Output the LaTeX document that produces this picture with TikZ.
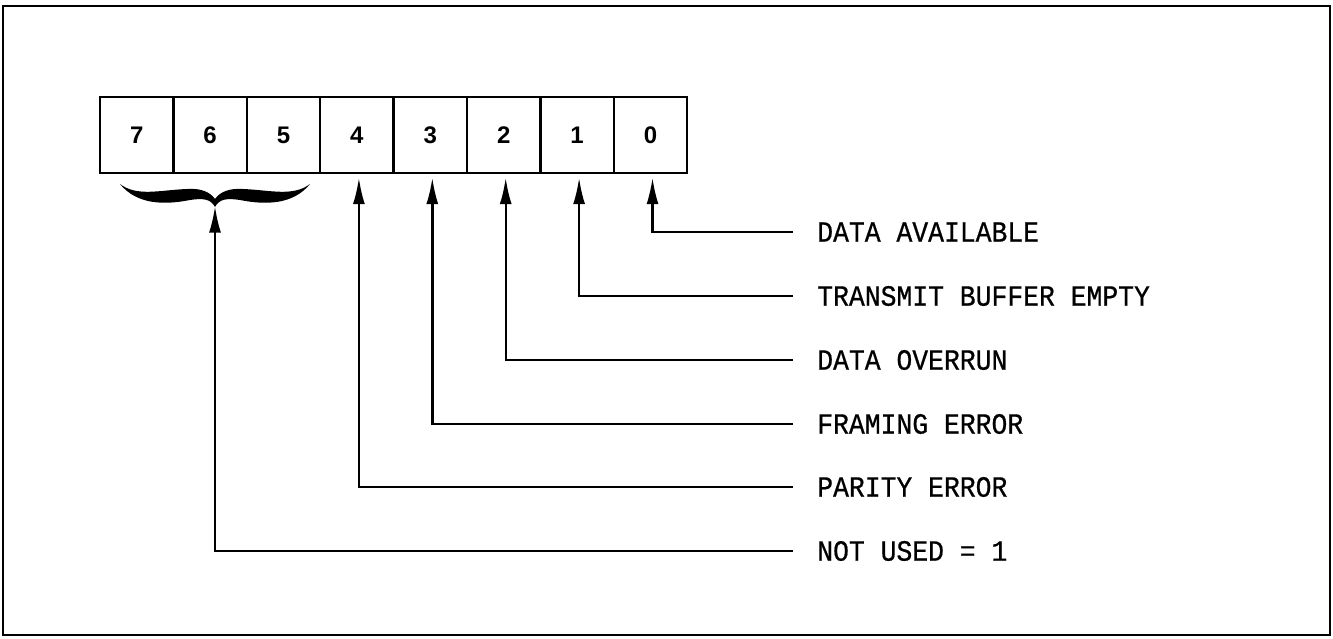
\documentclass[tikz,border=0pt]{standalone}
\usepackage{fontspec}
\setmainfont{Liberation Sans}
\newfontfamily\labfont[FakeStretch=0.9,FakeBold=0.6]{Liberation Mono}
\usetikzlibrary{arrows.meta}

\begin{document}
\begin{tikzpicture}[x=0.75pt,y=-0.75pt,
    cell/.style={draw,line width=1.8pt,minimum width=55pt,minimum height=57pt,inner sep=0pt,
      font=\fontsize{18}{21}\selectfont\bfseries},
    lab/.style={anchor=west,inner xsep=18pt,inner ysep=0pt,font=\labfont\fontsize{22}{26}\selectfont},
    sig/.style={line width=1.8pt,-{Latex[length=20pt,width=9pt]}}]
  \useasboundingbox (0,0) rectangle (1333,638);
  \draw[line width=2pt] (3,6) rectangle (1330,635);
  % status register, bit 7 on the left
  \foreach \b [count=\i from 0] in {7,6,...,0}
    \node[cell] (b\b) at ({136.7+73.4*\i},135) {\b};
  % brace under bits 7..5
  \begin{scope}[shift={(215,0)}]
    \fill (-95,184) .. controls (-78,205) and (-50,205) .. (-25,200)
      .. controls (-12,198) and (-4,199) .. (0,207)
      .. controls (4,199) and (12,198) .. (25,200)
      .. controls (50,205) and (78,205) .. (95,184)
      .. controls (78,197) and (55,190) .. (28,189)
      .. controls (14,188) and (5,192) .. (0,199)
      .. controls (-5,192) and (-14,188) .. (-28,189)
      .. controls (-55,190) and (-78,197) .. (-95,184) -- cycle;
  \end{scope}
  \coordinate (brace) at (215,206);
  % bit meanings
  \node[lab] (l0) at (793,232) {DATA AVAILABLE};
  \node[lab] (l1) at (793,296) {TRANSMIT BUFFER EMPTY};
  \node[lab] (l2) at (793,360) {DATA OVERRUN};
  \node[lab] (l3) at (793,424) {FRAMING ERROR};
  \node[lab] (l4) at (793,487) {PARITY ERROR};
  \node[lab] (l5) at (793,551) {NOT USED = 1};
  \foreach \b in {0,...,4}
    \draw[sig] (l\b.west) -| ([xshift=1.5pt,yshift=-2.5pt]b\b.south);
  \draw[sig] (l5.west) -| (brace);
\end{tikzpicture}
\end{document}
